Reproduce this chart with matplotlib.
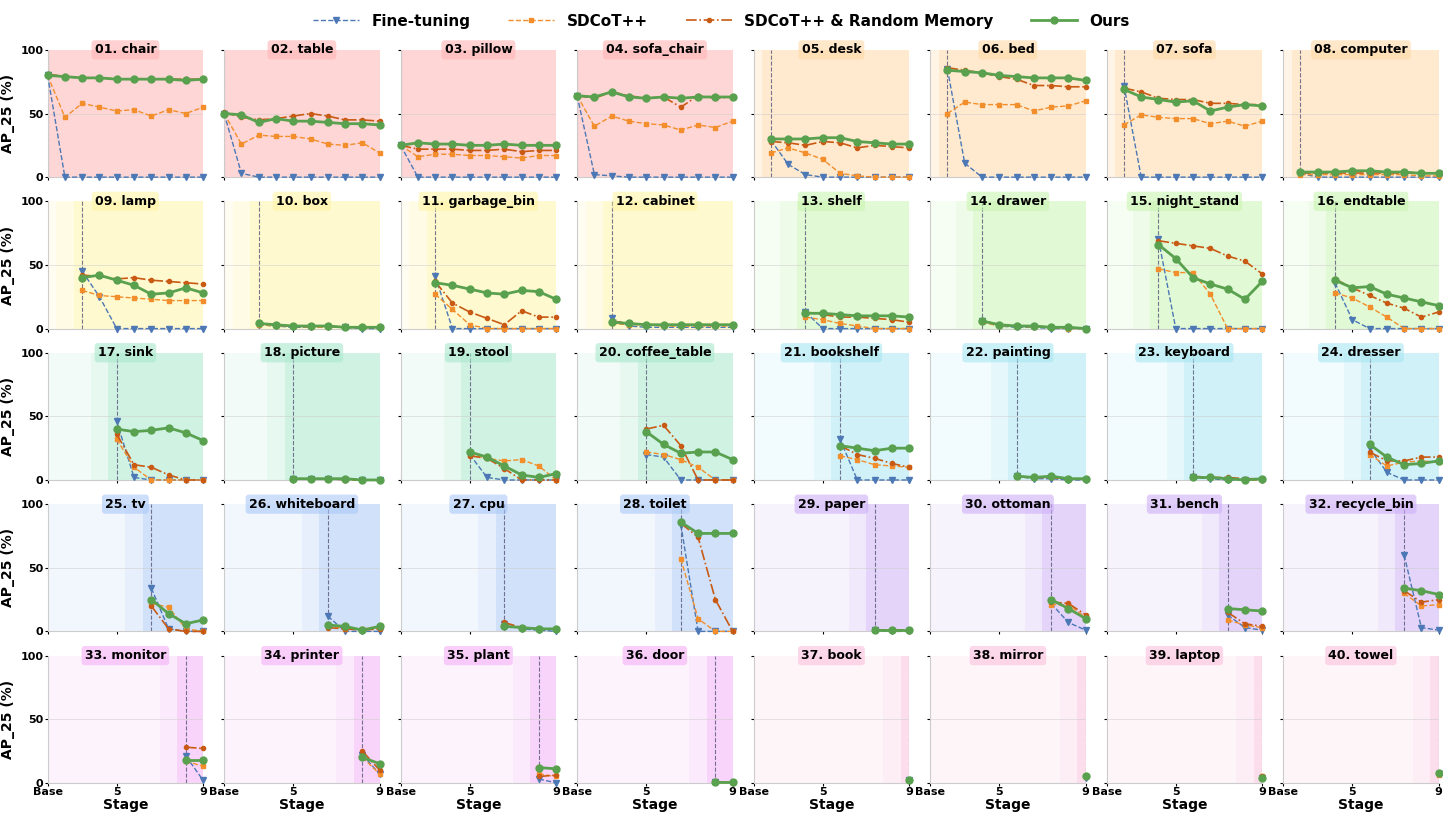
import matplotlib
matplotlib.use("Agg")
import matplotlib.pyplot as plt
from matplotlib.lines import Line2D

classes = ["chair","table","pillow","sofa_chair","desk","bed","sofa","computer",
           "lamp","box","garbage_bin","cabinet","shelf","drawer","night_stand","endtable",
           "sink","picture","stool","coffee_table","bookshelf","painting","keyboard","dresser",
           "tv","whiteboard","cpu","toilet","paper","ottoman","bench","recycle_bin",
           "monitor","printer","plant","door","book","mirror","laptop","towel"]
start_stage = [i // 4 for i in range(40)]

finetune = [
 [80,0,0,0,0,0,0,0,0,0],[50,3,0,0,0,0,0,0,0,0],[25,0,0,0,0,0,0,0,0,0],[64,2,1,0,0,0,0,0,0,0],
 [29,10,2,0,0,0,0,0,0],[85,11,0,0,0,0,0,0,0],[72,0,0,0,0,0,0,0,0],[3,0,0,0,0,0,0,0,0],
 [45,25,0,0,0,0,0,0],[3,2,1,1,1,1,0,0],[41,0,0,0,0,0,0,0],[8,2,1,1,1,1,1,1],
 [13,0,0,0,0,0,0],[6,2,1,1,0,0,0],[70,0,0,0,0,0,0],[36,7,0,0,0,0,0],
 [46,2,0,0,0,0],[1,1,1,0,0,0],[20,2,0,0,0,0],[20,18,0,0,0,0],
 [32,0,0,0,0],[3,1,1,0,0],[2,1,0,0,0],[25,6,0,0,0],
 [34,2,0,0],[12,0,0,0],[6,2,1,0],[84,0,0,0],
 [1,0,0],[22,7,1],[13,3,1],[60,3,1],
 [21,2],[22,7],[3,0],[1,0],
 [2],[4],[4],[7]]
sdcot = [
 [80,47,58,55,52,53,48,53,50,55],[50,26,33,32,32,30,26,25,27,19],[25,16,18,18,17,17,16,15,17,17],[64,40,48,44,42,41,37,41,39,44],
 [19,23,19,14,3,1,0,0,0],[50,59,57,57,57,52,55,56,60],[41,49,47,46,46,42,44,40,44],[2,2,2,2,2,2,2,1,1],
 [30,26,25,24,23,22,22,22],[3,2,2,1,1,1,1,1],[27,15,3,0,0,0,0,0],[4,3,3,2,2,2,2,2],
 [9,7,4,2,0,0,0],[5,2,2,1,1,0,0],[47,44,44,27,0,0,0],[28,24,17,9,0,0,0],
 [32,10,0,0,0,0],[1,1,1,0,0,0],[20,17,15,16,11,0],[22,20,16,10,0,0],
 [19,16,12,11,10],[2,2,2,1,1],[2,2,1,0,0],[20,11,14,15,14],
 [22,19,2,0],[5,2,2,3],[5,3,2,2],[57,10,0,0],
 [1,1,0],[21,21,11],[9,5,3],[30,20,21],
 [17,13],[20,7],[7,5],[1,0],
 [2],[5],[5],[6]]
randmem = [
 [81,79,78,78,77,77,77,77,77,77],[51,47,45,46,48,50,48,45,45,44],[25,22,22,22,21,21,22,20,21,21],[64,62,67,64,62,63,55,64,62,63],
 [28,27,25,28,27,23,25,24,23],[86,84,82,79,77,72,72,71,71],[70,67,62,61,61,58,58,57,57],[3,3,3,3,3,3,3,3,3],
 [42,41,39,40,38,37,36,35],[4,3,2,2,2,1,1,1],[37,20,13,8,3,14,9,9],[6,4,3,3,3,3,3,3],
 [13,11,9,9,8,7,5],[6,3,2,2,1,1,0],[69,67,65,63,57,53,43],[39,32,26,20,16,9,13],
 [36,12,10,4,0,0],[1,1,1,1,0,0],[19,17,9,0,0,0],[40,43,27,0,0,0],
 [27,20,17,13,10],[3,2,2,1,1],[3,2,2,1,1],[22,15,15,18,18],
 [20,2,0,0],[3,2,1,2],[7,3,2,2],[85,74,25,0],
 [1,1,1],[23,22,13],[15,6,4],[32,23,25],
 [28,27],[25,10],[5,6],[1,1],
 [2],[5],[5],[7]]
ours = [
 [80,79,78,78,77,77,77,77,76,77],[50,49,43,46,44,44,43,42,42,41],[25,27,26,26,25,25,26,25,25,25],[64,63,67,63,62,63,62,63,63,63],
 [30,30,30,31,31,28,27,26,26],[84,83,82,80,79,78,78,78,76],[69,63,61,59,60,52,55,57,56],[4,4,4,5,5,4,4,3,3],
 [40,42,38,34,27,28,32,28],[4,3,2,2,2,1,1,1],[36,34,31,28,27,30,29,23],[5,4,3,3,3,3,3,3],
 [12,12,11,10,10,10,9],[6,3,2,2,1,1,0],[66,55,40,35,31,23,37],[38,32,33,27,24,21,18],
 [40,38,39,41,37,31],[1,1,1,1,0,0],[22,18,11,4,2,5],[38,28,21,22,22,16],
 [27,25,23,25,25],[3,2,3,1,1],[2,2,1,0,1],[28,18,12,13,15],
 [25,14,6,9],[5,4,1,4],[4,3,2,2],[86,77,77,77],
 [1,1,1],[25,18,10],[18,17,16],[34,32,29],
 [18,18],[20,15],[12,11],[1,1],
 [2],[5],[4],[8]]

group_colors = ["#ffb3b3","#ffd9a6","#fff5a6","#c8f5b0","#a8e8cc","#a8e6f2","#aac8f7","#cdb0f7","#f5b0f7","#fbc0dc"]
tick_pos = [0, 4, 9]
tick_labels = ["Base", "5", "9"]

series = [
 ("Fine-tuning", finetune, dict(color="#4c78b5", ls="--", marker="v", ms=4, lw=1.0)),
 ("SDCoT++", sdcot, dict(color="#f28e2b", ls="--", marker="s", ms=3.5, lw=1.0)),
 ("SDCoT++ & Random Memory", randmem, dict(color="#c85a14", ls="-.", marker="o", ms=3, lw=1.2)),
 ("Ours", ours, dict(color="#59a14f", ls="-", marker="o", ms=5, lw=2.0)),
]

fig, axes = plt.subplots(5, 8, figsize=(14.43, 8.18), dpi=100)
fig.subplots_adjust(left=0.033, right=0.997, top=0.939, bottom=0.043, wspace=0.135, hspace=0.19)

for i, ax in enumerate(axes.flat):
    s = start_stage[i]
    gc = group_colors[s]
    ax.set_xlim(0, 9)
    ax.set_ylim(0, 100)
    ax.axvspan(0, 9, color=gc, alpha=0.15, lw=0, zorder=0)
    if s > 0:
        ax.axvspan(max(s - 1.5, 0), s - 0.5, color=gc, alpha=0.15, lw=0, zorder=0)
    ax.axvspan(max(s - 0.5, 0), 9, color=gc, alpha=0.45, lw=0, zorder=0)
    ax.axhline(50, color="#cccccc", lw=0.6, alpha=0.6, zorder=1)
    ax.axvline(s, color="#555577", ls="--", lw=0.8, alpha=0.8, zorder=1)
    for name, data, kw in series:
        vals = data[i]
        xs = list(range(s, s + len(vals)))
        ax.plot(xs, vals, zorder=3, clip_on=False, **kw)
    ax.text(0.5, 1.0, f"{i+1:02d}. {classes[i]}", transform=ax.transAxes, ha="center", va="center",
            fontsize=9, fontweight="bold",
            bbox=dict(boxstyle="round,pad=0.25", facecolor=gc, edgecolor="none", alpha=0.6), zorder=5)
    for sp in ("top", "right"):
        ax.spines[sp].set_visible(False)
    for sp in ("left", "bottom"):
        ax.spines[sp].set_color("#cccccc")
    ax.set_xticks(tick_pos)
    ax.set_yticks([0, 50, 100])
    ax.tick_params(length=2, labelsize=8, pad=1)
    r, c = divmod(i, 8)
    if r == 4:
        ax.set_xticklabels(tick_labels, fontweight="bold")
        ax.set_xlabel("Stage", fontweight="bold", fontsize=10, labelpad=1)
    else:
        ax.set_xticklabels([])
    if c == 0:
        ax.set_yticklabels(["0", "50", "100"], fontweight="bold")
        ax.set_ylabel("AP_25 (%)", fontweight="bold", fontsize=10)
    else:
        ax.set_yticklabels([])

handles = [Line2D([], [], **kw) for _, _, kw in series]
fig.legend(handles, [n for n, _, _ in series], loc="upper center", ncol=4, frameon=False,
           bbox_to_anchor=(0.5, 1.0), prop=dict(weight="bold", size=11), handlelength=3, columnspacing=2.5)
fig.savefig("out.png", dpi=100)
